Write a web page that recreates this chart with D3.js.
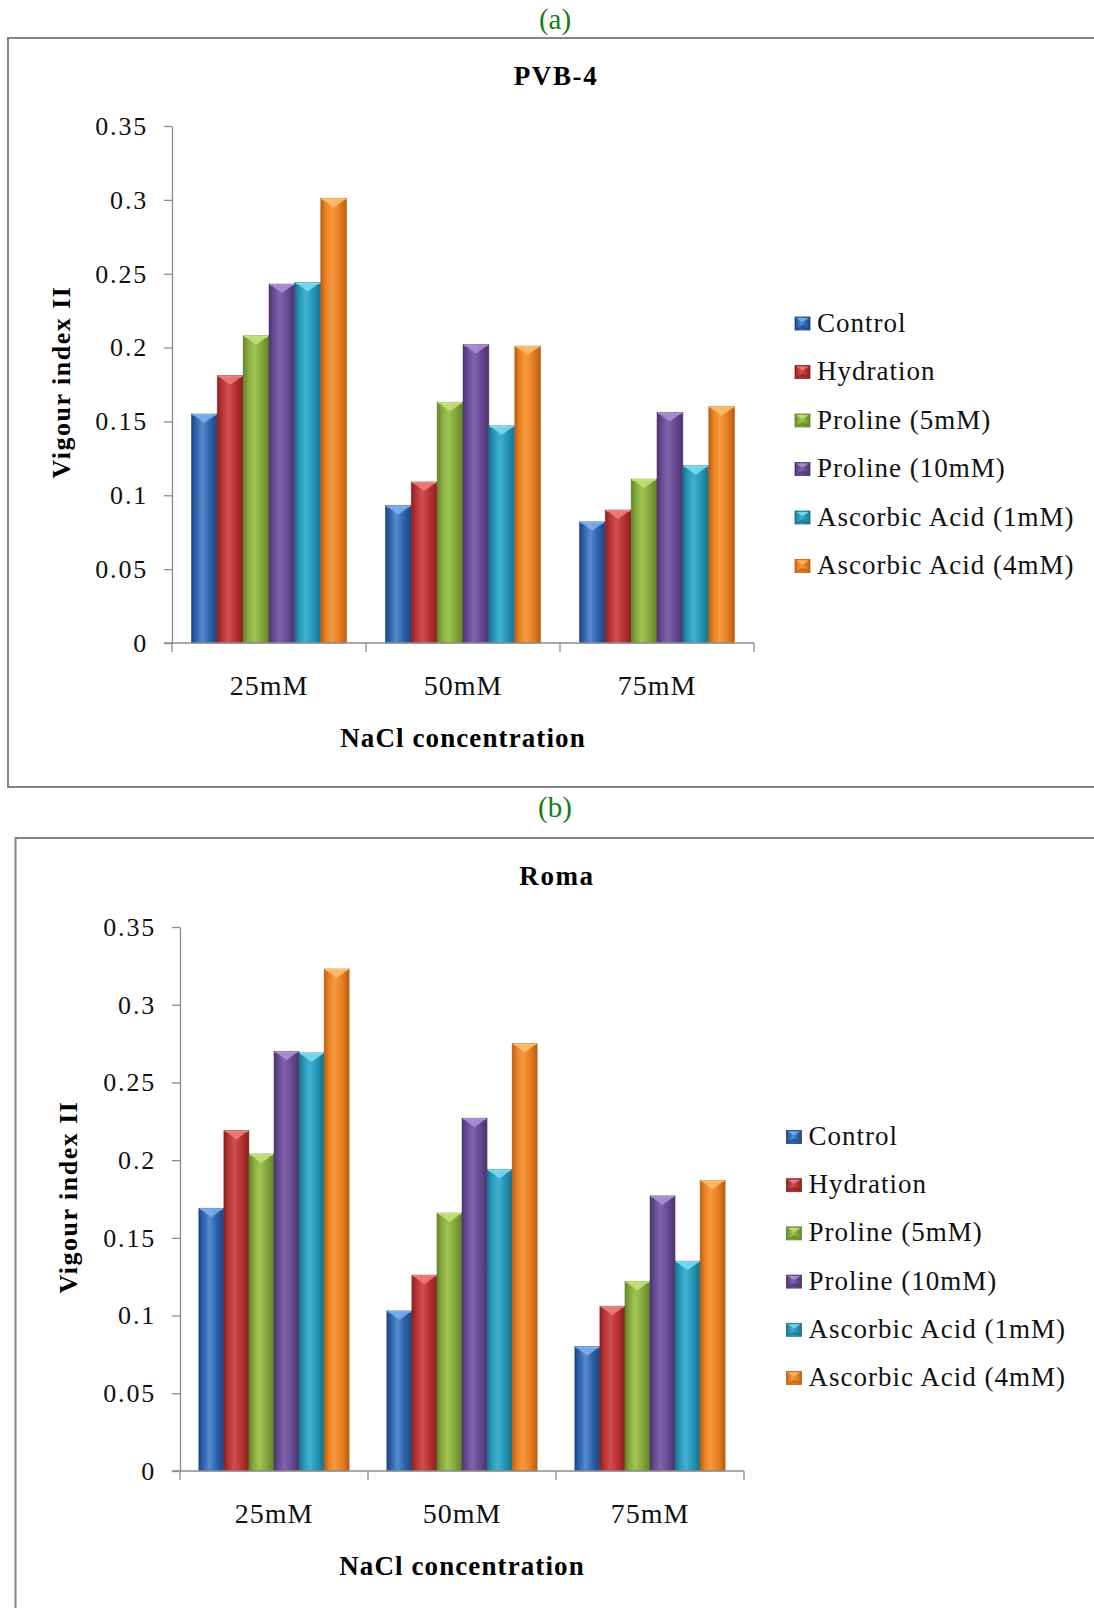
<!DOCTYPE html>
<html>
<head>
<meta charset="utf-8">
<script src="https://cdn.jsdelivr.net/npm/d3@7"></script>
<style>
  html, body { margin: 0; padding: 0; background: #ffffff; }
  svg { display: block; }
</style>
</head>
<body>
<svg id="chart" width="1094" height="1608"></svg>
<script>
// ---------------- DATA ----------------
const categories = ["25mM", "50mM", "75mM"];
const seriesNames = ["Control", "Hydration", "Proline (5mM)", "Proline (10mM)", "Ascorbic Acid (1mM)", "Ascorbic Acid (4mM)"];
const yTickValues = [0, 0.05, 0.1, 0.15, 0.2, 0.25, 0.3, 0.35];
const yTickLabels = ["0", "0.05", "0.1", "0.15", "0.2", "0.25", "0.3", "0.35"];

// Panel (a) PVB-4
const pvbControl    = [0.155, 0.093, 0.082];
const pvbHydration  = [0.181, 0.109, 0.090];
const pvbProline5   = [0.208, 0.163, 0.111];
const pvbProline10  = [0.243, 0.202, 0.156];
const pvbAscorbic1  = [0.244, 0.147, 0.120];
const pvbAscorbic4  = [0.301, 0.201, 0.160];

// Panel (b) Roma
const romaControl   = [0.169, 0.103, 0.080];
const romaHydration = [0.219, 0.126, 0.106];
const romaProline5  = [0.204, 0.166, 0.122];
const romaProline10 = [0.270, 0.227, 0.177];
const romaAscorbic1 = [0.269, 0.194, 0.135];
const romaAscorbic4 = [0.323, 0.275, 0.187];

const pvbSeries  = [pvbControl, pvbHydration, pvbProline5, pvbProline10, pvbAscorbic1, pvbAscorbic4];
const romaSeries = [romaControl, romaHydration, romaProline5, romaProline10, romaAscorbic1, romaAscorbic4];

// ---------------- STYLE ----------------
const palette = [
  { base: "#3063aa", dark: "#1d4482", light: "#558bd0", top: "#7fb0ee" },
  { base: "#b93232", dark: "#8a2020", light: "#d04f4f", top: "#f08080" },
  { base: "#86a93c", dark: "#63822a", light: "#a0c454", top: "#c6e27e" },
  { base: "#684a92", dark: "#4b346e", light: "#8064ab", top: "#ae92d6" },
  { base: "#2597b6", dark: "#19718b", light: "#41b1d0", top: "#7fdcf2" },
  { base: "#e98022", dark: "#b95e12", light: "#f59940", top: "#ffc070" }
];
const serif = "'Liberation Serif', 'Times New Roman', Times, serif";
const axisGray = "#8c8c8c";

const svg = d3.select("#chart");
const defs = svg.append("defs");
palette.forEach((c, i) => {
  const g = defs.append("linearGradient").attr("id", "barGrad" + i)
    .attr("x1", "0%").attr("x2", "100%").attr("y1", "0%").attr("y2", "0%");
  g.append("stop").attr("offset", "0%").attr("stop-color", c.dark);
  g.append("stop").attr("offset", "18%").attr("stop-color", c.base);
  g.append("stop").attr("offset", "42%").attr("stop-color", c.light);
  g.append("stop").attr("offset", "70%").attr("stop-color", c.base);
  g.append("stop").attr("offset", "100%").attr("stop-color", c.dark);
});

const panels = [
  {
    label: "(a)", labelX: 555, labelY: 29,
    border: { x: 8, y: 38, w: 1110, h: 749 },
    title: "PVB-4", titleX: 556, titleY: 85,
    x0: 172, x1: 754, yTop: 126, yBottom: 643,
    yTitleX: 70, yTitleY: 382,
    series: pvbSeries,
    legendSqX: 795, legendTextX: 817, legendY0: 322.5, legendStep: 48.5
  },
  {
    label: "(b)", labelX: 555, labelY: 817,
    border: { x: 15.5, y: 838, w: 1110, h: 800 },
    title: "Roma", titleX: 557, titleY: 885,
    x0: 180, x1: 744, yTop: 927, yBottom: 1471,
    yTitleX: 77, yTitleY: 1197,
    series: romaSeries,
    legendSqX: 786.5, legendTextX: 808.5, legendY0: 1136, legendStep: 48.2
  }
];

panels.forEach(p => {
  const root = svg.append("g");

  // panel label (a)/(b)
  root.append("text").attr("x", p.labelX).attr("y", p.labelY)
    .attr("text-anchor", "middle").attr("font-family", serif)
    .attr("font-size", 29).attr("fill", "#167a16").text(p.label);

  // border
  root.append("rect").attr("x", p.border.x).attr("y", p.border.y)
    .attr("width", p.border.w).attr("height", p.border.h)
    .attr("fill", "none").attr("stroke", "#858585").attr("stroke-width", 2);

  // title
  root.append("text").attr("x", p.titleX).attr("y", p.titleY)
    .attr("text-anchor", "middle").attr("font-family", serif)
    .attr("font-weight", "bold").attr("font-size", 27)
    .attr("letter-spacing", 1.6).attr("fill", "#000").text(p.title);

  // scales
  const x = d3.scaleBand().domain(categories).range([p.x0, p.x1]).paddingInner(0).paddingOuter(0);
  const xs = d3.scaleBand().domain(d3.range(seriesNames.length)).range([0, x.bandwidth()])
    .paddingInner(0).paddingOuter(0.75);
  const y = d3.scaleLinear().domain([0, 0.35]).range([p.yBottom, p.yTop]);

  // y axis
  const yAxis = d3.axisLeft(y).tickValues(yTickValues)
    .tickFormat((d, i) => yTickLabels[i]).tickSize(8).tickSizeOuter(0).tickPadding(16);
  const gy = root.append("g").attr("transform", `translate(${p.x0},0)`).call(yAxis);
  gy.select(".domain").attr("stroke", axisGray).attr("stroke-width", 1.3);
  gy.selectAll(".tick line").attr("stroke", axisGray).attr("stroke-width", 1.3);
  gy.selectAll(".tick text").attr("font-family", serif).attr("font-size", 26)
    .attr("letter-spacing", 1.8).attr("fill", "#111");

  // bars
  const groups = root.append("g").selectAll("g").data(categories).join("g")
    .attr("transform", c => `translate(${x(c)},0)`);
  groups.each(function(c, ci) {
    const g = d3.select(this);
    p.series.forEach((arr, si) => {
      const v = arr[ci];
      const bx = xs(si), bw = xs.bandwidth();
      const top = y(v), h = y(0) - y(v);
      g.append("rect").attr("x", bx).attr("y", top).attr("width", bw).attr("height", h)
        .attr("fill", `url(#barGrad${si})`)
        .attr("stroke", palette[si].dark).attr("stroke-opacity", 0.6).attr("stroke-width", 0.8);
      // top bevel chevron
      g.append("path")
        .attr("d", `M${bx + 1},${top + 0.5} L${bx + bw - 1},${top + 0.5} L${bx + bw / 2},${top + 9} Z`)
        .attr("fill", palette[si].top).attr("opacity", 0.85);
      g.append("line").attr("x1", bx + 1).attr("x2", bx + bw - 1)
        .attr("y1", top + 0.8).attr("y2", top + 0.8)
        .attr("stroke", palette[si].top).attr("stroke-width", 1.5);
    });
  });

  // x axis: line + category dividers + labels
  const gx = root.append("g").attr("transform", `translate(0,${p.yBottom})`);
  gx.append("line").attr("x1", p.x0 - 8).attr("x2", p.x1).attr("y1", 0).attr("y2", 0)
    .attr("stroke", axisGray).attr("stroke-width", 1.3);
  const dividers = categories.map(c => x(c)).concat([x(categories[categories.length - 1]) + x.bandwidth()]);
  gx.selectAll("line.div").data(dividers).join("line").attr("class", "div")
    .attr("x1", d => d).attr("x2", d => d).attr("y1", 0).attr("y2", 9)
    .attr("stroke", axisGray).attr("stroke-width", 1.3);
  gx.selectAll("text.cat").data(categories).join("text").attr("class", "cat")
    .attr("x", c => x(c) + x.bandwidth() / 2).attr("y", 52)
    .attr("text-anchor", "middle").attr("font-family", serif).attr("font-size", 28)
    .attr("letter-spacing", 1).attr("fill", "#111").text(c => c);

  // x axis title
  root.append("text").attr("x", (p.x0 + p.x1) / 2).attr("y", p.yBottom + 104)
    .attr("text-anchor", "middle").attr("font-family", serif).attr("font-weight", "bold")
    .attr("font-size", 27).attr("letter-spacing", 1.1).attr("fill", "#000")
    .text("NaCl concentration");

  // y axis title
  root.append("text").attr("transform", `translate(${p.yTitleX},${p.yTitleY}) rotate(-90)`)
    .attr("text-anchor", "middle").attr("font-family", serif).attr("font-weight", "bold")
    .attr("font-size", 26).attr("letter-spacing", 1.5).attr("fill", "#000")
    .text("Vigour index II");

  // legend
  const lg = root.append("g");
  seriesNames.forEach((name, i) => {
    const cy = p.legendY0 + i * p.legendStep;
    const sx = p.legendSqX, sw = 15, sh = 13, sy = cy - sh / 2 + 1;
    lg.append("rect").attr("x", sx).attr("y", sy).attr("width", sw).attr("height", sh)
      .attr("fill", `url(#barGrad${i})`).attr("stroke", palette[i].dark).attr("stroke-width", 0.8);
    lg.append("path").attr("d", `M${sx + 1},${sy + 1} L${sx + sw - 1},${sy + 1} L${sx + sw / 2},${sy + 5} Z`)
      .attr("fill", palette[i].top).attr("opacity", 0.85);
    lg.append("path").attr("d", `M${sx + 1},${sy + sh - 1} L${sx + sw - 1},${sy + sh - 1} L${sx + sw / 2},${sy + sh - 5} Z`)
      .attr("fill", palette[i].dark).attr("opacity", 0.7);
    lg.append("text").attr("x", p.legendTextX).attr("y", cy + 9)
      .attr("font-family", serif).attr("font-size", 27).attr("letter-spacing", 1)
      .attr("fill", "#111").text(name);
  });
});
</script>
</body>
</html>
